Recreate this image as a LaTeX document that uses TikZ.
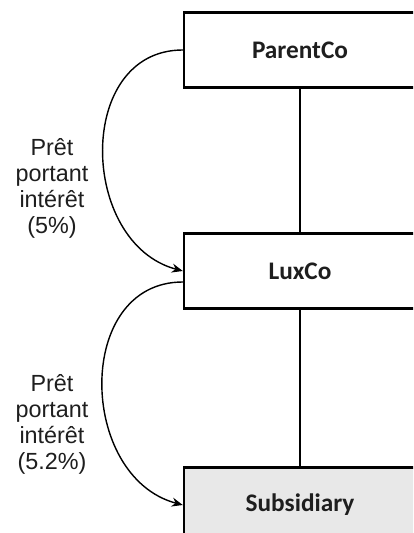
\documentclass[tikz,border=0pt]{standalone}
\usepackage{fontspec}
\setmainfont{Liberation Sans}
\newfontfamily\boxfont{Carlito}
\usepackage{xcolor}
\usepackage{tikz}
\usetikzlibrary{positioning,arrows.meta}

\definecolor{subgray}{HTML}{E8E8E8}
\definecolor{ink}{HTML}{1E1E1E}

\tikzset{
    entity/.style={draw, line width=1.4pt, minimum width=4.64cm, minimum height=1.5cm,
        font=\boxfont\bfseries\fontsize{14.4}{16}\selectfont, text=ink},
    loan/.style={-{Stealth[length=2.2mm,width=1.8mm]}, line width=0.8pt},
    loantext/.style={align=center, text=ink, font=\fontsize{13.3}{14.8}\selectfont},
}

\begin{document}
\begin{tikzpicture}[x=0.02cm, y=-0.02cm]
        \useasboundingbox (0,0) rectangle (413,533);
        \clip (0,0) rectangle (413,533);

        % boxes
        \node [entity] (parent) at (300,50) {ParentCo};
        \node [entity] (luxco) at (300,271) {LuxCo};
        \node [entity, fill=subgray] (sub) at (300,505) {Subsidiary};

        \draw [line width=0.8pt] (parent) -- (luxco);
        \draw [line width=0.8pt] (luxco) -- (sub);

        % loans
        \draw [loan] (parent.west) to [out=180, in=165, looseness=1.25] (luxco.west);
        \draw [loan] ([yshift=-0.22cm]luxco.west) to [out=180, in=165, looseness=1.25] (sub.west);

        \node [loantext] (rate1) at (52,188) {Prêt\\portant\\intérêt\\(5\%)};
        \node [loantext] (rate2) at (52,424) {Prêt\\portant\\intérêt\\(5.2\%)};
    \end{tikzpicture}
\end{document}
